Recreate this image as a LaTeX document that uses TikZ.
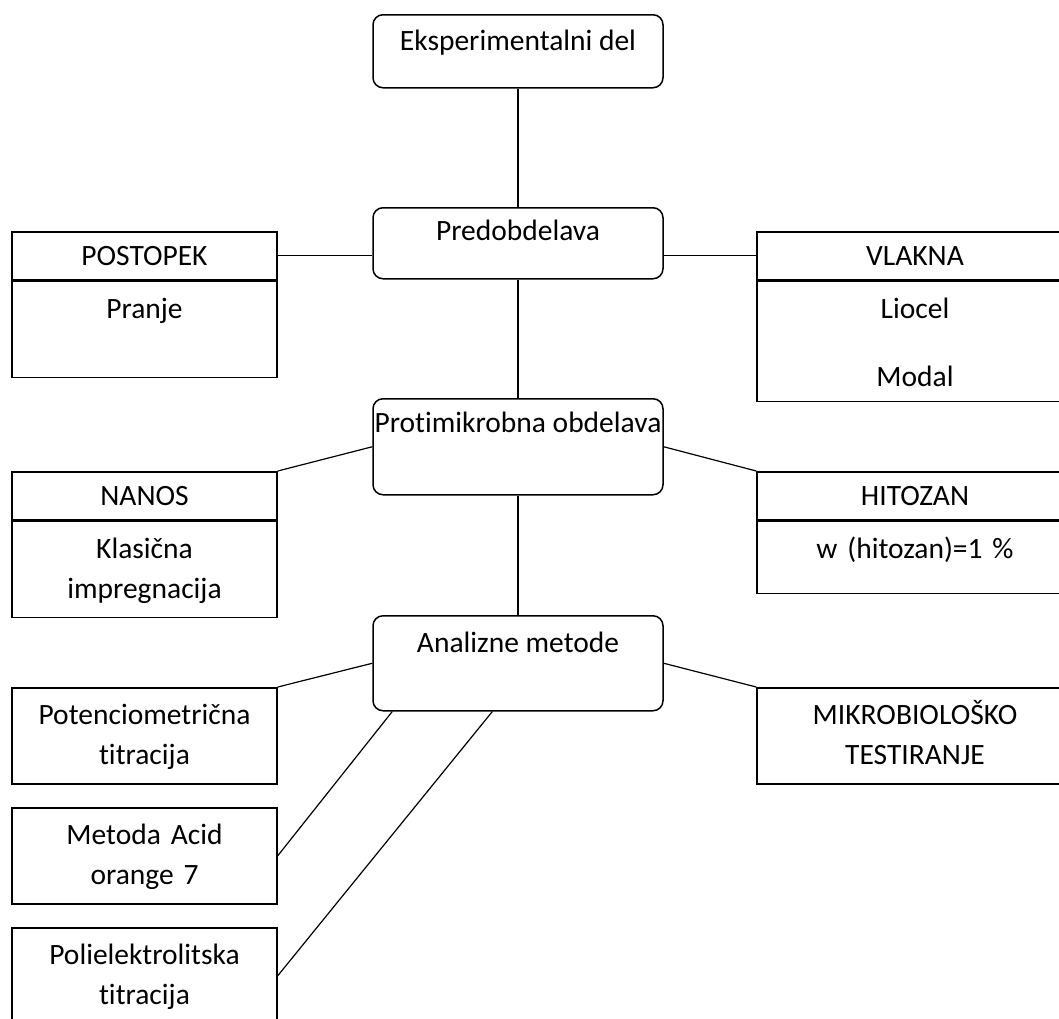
\documentclass[tikz,border=0pt]{standalone}
\usepackage{fontspec}
\setmainfont{Carlito}[Ligatures=NoCommon]
\usetikzlibrary{positioning,calc}

\tikzset{
        stage/.style={draw, rounded corners=10pt, line width=1.5pt, minimum width=290pt,
                inner sep=0pt, anchor=north, align=center},
        head/.style={draw, line width=1.5pt, minimum height=48pt, inner sep=0pt, anchor=north},
        body/.style={draw, line width=1.5pt, inner sep=0pt, anchor=north, align=center,
                text height=37pt},
        link/.style={line width=1.2pt}
}

\begin{document}
\begin{tikzpicture}[x=1pt, y=-1pt, font=\fontsize{29.5}{40}\selectfont]
        \useasboundingbox (0, 0) rectangle (1059, 1018);
        \clip (0, 0) rectangle (1059, 1018);

        % main column
        \node[stage, text height=36pt, text depth=37pt] (exp) at (518, 14) {Eksperimentalni del};
        \node[stage, text height=33pt, text depth=38pt] (pred) at (518, 207) {Predobdelava};
        \node[stage, text height=34pt, text depth=62pt] (prot) at (518, 398) {Protimikrobna obdelava};
        \node[stage, text height=37pt, text depth=58pt] (anal) at (518, 615) {Analizne metode};

        % left side
        \node[head, minimum width=265pt] (postopek) at (144.5, 231) {POSTOPEK};
        \node[body, text width=265pt, text depth=59pt, below=0pt of postopek] (pranje) {Pranje};
        \node[head, minimum width=265pt] (nanos) at (144.5, 471) {NANOS};
        \node[body, text width=265pt, text depth=59pt, below=0pt of nanos] (klasicna) {Klasična\\impregnacija};
        \node[body, text width=265pt, text depth=59pt] (poten) at (144.5, 687) {Potenciometrična\\titracija};
        \node[body, text width=265pt, text depth=59pt] (metoda) at (144.5, 807) {Metoda Acid\\orange 7};
        \node[body, text width=265pt, text depth=59pt] (poli) at (144.5, 927) {Polielektrolitska\\titracija};

        % right side
        \node[head, minimum width=316pt] (vlakna) at (915, 231) {VLAKNA};
        \node[body, text width=316pt, text depth=83pt, below=0pt of vlakna] (liocel) {Liocel\\[28pt]Modal};
        \node[head, minimum width=316pt] (hitozan) at (915, 471) {HITOZAN};
        \node[body, text width=316pt, text depth=35pt, below=0pt of hitozan] (delez) {w (hitozan)=1 \%};
        \node[body, text width=316pt, text depth=59pt] (mikro) at (915, 687) {MIKROBIOLOŠKO\\TESTIRANJE};

        % connectors
        \draw[link] (exp.south) -- (pred.north);
        \draw[link] (pred.south) -- (prot.north);
        \draw[link] (prot.south) -- (anal.north);
        \draw[link] (postopek.east) -- (postopek.east -| pred.west);
        \draw[link] (vlakna.west -| pred.east) -- (vlakna.west);
        \draw[link] (nanos.north east) -- (prot.west);
        \draw[link] (prot.east) -- (hitozan.north west);
        \draw[link] (poten.north east) -- (anal.west);
        \draw[link] (metoda.east) -- (anal.201);
        \draw[link] (poli.east) -- (anal.242);
        \draw[link] (anal.east) -- (mikro.north west);
\end{tikzpicture}
\end{document}
